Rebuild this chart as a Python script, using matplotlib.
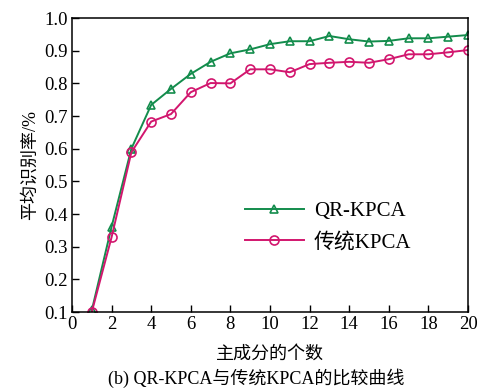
import matplotlib
matplotlib.use("Agg")
import matplotlib.pyplot as plt

plt.rcParams['font.family'] = ['Liberation Serif', 'Noto Sans CJK SC']

n_comp = list(range(1, 21))
qr_kpca = [0.105, 0.361, 0.600, 0.734, 0.783, 0.829, 0.866, 0.892, 0.904, 0.920,
           0.929, 0.929, 0.945, 0.935, 0.928, 0.930, 0.938, 0.938, 0.943, 0.948]
trad_kpca = [0.100, 0.329, 0.589, 0.683, 0.706, 0.773, 0.801, 0.800, 0.843, 0.843,
             0.834, 0.859, 0.863, 0.866, 0.863, 0.874, 0.889, 0.889, 0.895, 0.902]

green = '#138c4c'
pink = '#d2166e'

fig = plt.figure(figsize=(4.83, 3.92), dpi=100)
ax = fig.add_axes([0.149, 0.204, 0.820, 0.750])

ax.plot(n_comp, qr_kpca, color=green, marker='^', markersize=6, markerfacecolor='none',
        markeredgewidth=1.2, linewidth=1.4, label='QR-KPCA')
ax.plot(n_comp, trad_kpca, color=pink, marker='o', markersize=6.5, markerfacecolor='none',
        markeredgewidth=1.2, linewidth=1.4, label='传统KPCA')

ax.set_xlim(0, 20)
ax.set_ylim(0.1, 1.0)
ax.set_xticks(range(0, 21, 2))
ax.set_yticks([0.1 * i for i in range(1, 11)])
ax.set_yticklabels([f"{0.1 * i:.1f}" for i in range(1, 11)])
ax.tick_params(direction='in', labelsize=13.5, length=5, width=1, pad=3)
for s in ax.spines.values():
    s.set_linewidth(1.1)

ax.set_xlabel('主成分的个数', fontsize=13, labelpad=9)
ax.set_ylabel('平均识别率/%', fontsize=13, labelpad=4)
fig.text(0.53, 0.02, '(b) QR-KPCA与传统KPCA的比较曲线', ha='center', fontsize=13)

ax.legend(loc='center left', bbox_to_anchor=(0.39, 0.29), frameon=False, fontsize=15,
          handlelength=2.8, handletextpad=0.5, labelspacing=0.55)

fig.savefig('out.png', dpi=100)
